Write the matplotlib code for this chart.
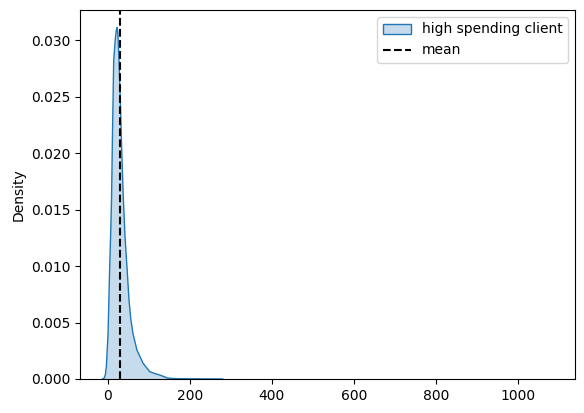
import matplotlib
matplotlib.use("Agg")
import matplotlib.pyplot as plt
from matplotlib.patches import Patch
from matplotlib.lines import Line2D

# KDE curve (x value, density)
kde_x = [-13, -8.5, -6, -3.6, 0.5, 4.5, 7, 9, 11.5, 14.3, 18, 20.5, 22.4, 24.5,
         27.2, 31, 34, 38, 42, 46.7, 51.6, 56, 61.4, 71, 86, 102, 118, 126, 134,
         145, 155, 170, 200, 235, 280, 400, 600, 800, 1000, 1084]
kde_y = [0.0, 0.0001, 0.0004, 0.0011, 0.0040, 0.0099, 0.0130, 0.0158, 0.0220,
         0.0282, 0.0300, 0.0308, 0.0311, 0.0306, 0.0282, 0.0240, 0.0200, 0.0158,
         0.0125, 0.0099, 0.0070, 0.0053, 0.0040, 0.00256, 0.00139, 0.00065,
         0.00044, 0.00036, 0.00025, 0.0001, 0.00005, 0.00003, 0.00002, 0.00001,
         0.000003, 0.0, 0.0, 0.0, 0.0, 0.0]
mean_value = 30.5
series_label = "high spending client"
mean_label = "mean"

fig = plt.figure(figsize=(5.84, 4.13), dpi=100)
ax = fig.add_axes([80 / 584, (413 - 379) / 413, (575 - 80) / 584, (379 - 10) / 413])

c0 = "#1f77b4"
ax.fill_between(kde_x, 0, kde_y, facecolor=c0, alpha=0.25, linewidth=0)

# outline only where the density is above zero (at zero it sits under the spine)
last = max(i for i, v in enumerate(kde_y) if v > 0)
ax.plot(kde_x[:last + 1], kde_y[:last + 1], color=c0, linewidth=1.0)
ax.axvline(mean_value, color="k", linestyle="--", linewidth=1.5)

ax.set_ylim(0, max(kde_y) * 1.05)
ax.set_ylabel("Density")
ax.yaxis.set_major_formatter(matplotlib.ticker.FormatStrFormatter("%.3f"))

handles = [
    Patch(facecolor=(0.1216, 0.4667, 0.7059, 0.25), edgecolor=c0, linewidth=1.0, label=series_label),
    Line2D([0], [0], color="k", linestyle="--", linewidth=1.5, label=mean_label),
]
ax.legend(handles=handles, loc="upper right")

fig.savefig("out.png", dpi=100)
